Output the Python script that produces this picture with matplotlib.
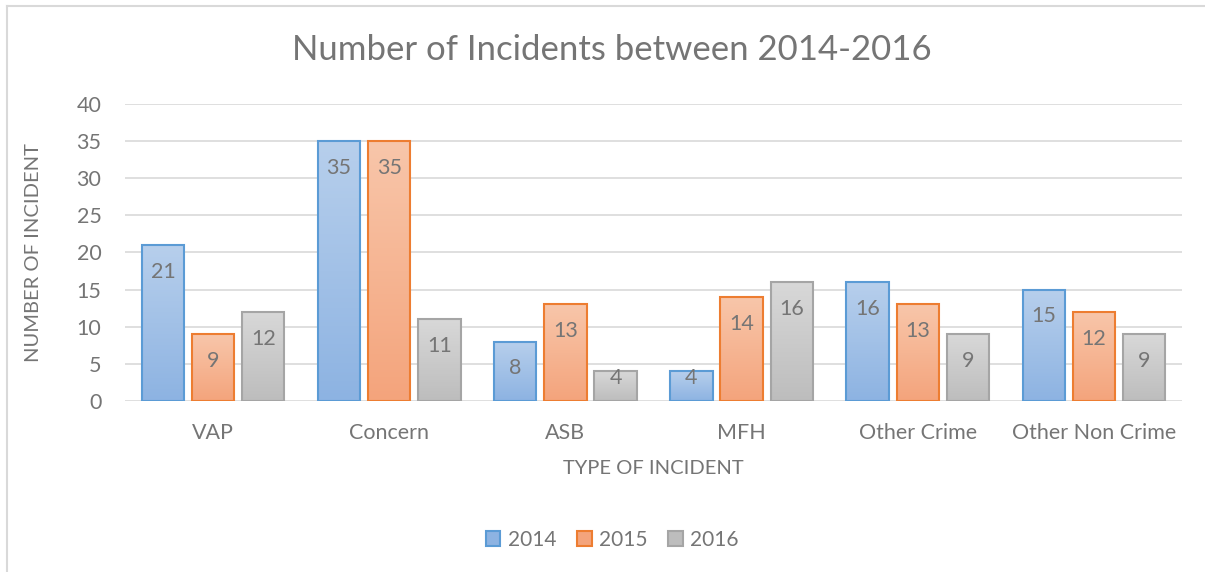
import numpy as np
import matplotlib
matplotlib.use('Agg')
import matplotlib.pyplot as plt
from matplotlib.patches import Patch
from matplotlib.colors import LinearSegmentedColormap

plt.rcParams['font.family'] = ['Lato', 'DejaVu Sans']

categories = ['VAP', 'Concern', 'ASB', 'MFH', 'Other Crime', 'Other Non Crime']
years = ['2014', '2015', '2016']
v2014 = [21, 35, 8, 4, 16, 15]
v2015 = [9, 35, 13, 14, 13, 12]
v2016 = [12, 11, 4, 16, 9, 9]

series = [v2014, v2015, v2016]
# (top colour, bottom colour, edge colour)
colores = [('#b7cfec', '#8db3e2', '#5b9bd5'),
           ('#f8c6aa', '#f4a47c', '#ed7d31'),
           ('#d8d8d8', '#bdbdbd', '#a5a5a5')]
texto = '#757575'

fig = plt.figure(figsize=(12.05, 5.72), dpi=100)
ax = fig.add_axes([125/1205, 1-401/572, (1182-125)/1205, (401-104)/572])

x = np.arange(len(categories))
ancho = 0.24
paso = 0.285

for k, vals in enumerate(series):
    top, bot, edge = colores[k]
    cmap = LinearSegmentedColormap.from_list('g%d' % k, [bot, top])
    pos = x + (k - 1) * paso
    barras = ax.bar(pos, vals, ancho, color='none', edgecolor=edge, linewidth=1.5, zorder=3)
    for b, v in zip(barras, vals):
        x0 = b.get_x()
        im = ax.imshow(np.linspace(0, 1, 100).reshape(-1, 1), cmap=cmap, origin='lower',
                       extent=[x0, x0 + ancho, 0, v], aspect='auto', zorder=2)
        im.set_clip_path(b)
        y = max(v - 3.6, 3.1)
        ax.text(b.get_x() + ancho/2, y, str(v), ha='center', va='center',
                fontsize=15.5, color=texto, zorder=4)

ax.set_xlim(-0.5, len(categories) - 0.5)
ax.set_ylim(0, 40)
ax.set_yticks(range(0, 41, 5))
ax.set_xticks(x)
ax.set_xticklabels(categories)
ax.yaxis.grid(True, color='#d9d9d9', linewidth=1.2, zorder=0)
ax.set_axisbelow(True)
for s in ax.spines.values():
    s.set_visible(False)
ax.tick_params(axis='both', length=0, labelsize=15.5, labelcolor=texto)
ax.tick_params(axis='x', pad=16)
ax.tick_params(axis='y', pad=17)

ax.set_xlabel('TYPE OF INCIDENT', fontsize=14.5, color=texto)
ax.set_ylabel('NUMBER OF INCIDENT', fontsize=14.5, color=texto)
ax.xaxis.set_label_coords(0.5, -(468-401)/(401-104))
ax.xaxis.label.set_va('center')
ax.yaxis.set_label_coords(-(125-33)/(1182-125), 0.5)
ax.yaxis.label.set_va('center')

fig.text(0.508, 1-50/572, 'Number of Incidents between 2014-2016', ha='center', va='center',
         fontsize=25, color=texto)

handles = [Patch(facecolor=c[1], edgecolor=c[2], linewidth=1.5) for c in colores]
fig.legend(handles, years, loc='center', bbox_to_anchor=(0.508, 1-540/572), ncol=3,
           frameon=False, fontsize=15, labelcolor=texto, handlelength=0.7, handleheight=0.7,
           handletextpad=0.35, columnspacing=1.0)

# chart border (top and left only visible)
fig.add_artist(plt.Line2D([7/1205, 1], [1-6/572, 1-6/572], color='#d9d9d9', linewidth=1.5))
fig.add_artist(plt.Line2D([7/1205, 7/1205], [0, 1-6/572], color='#d9d9d9', linewidth=1.5))

fig.savefig('out.png', dpi=100)
